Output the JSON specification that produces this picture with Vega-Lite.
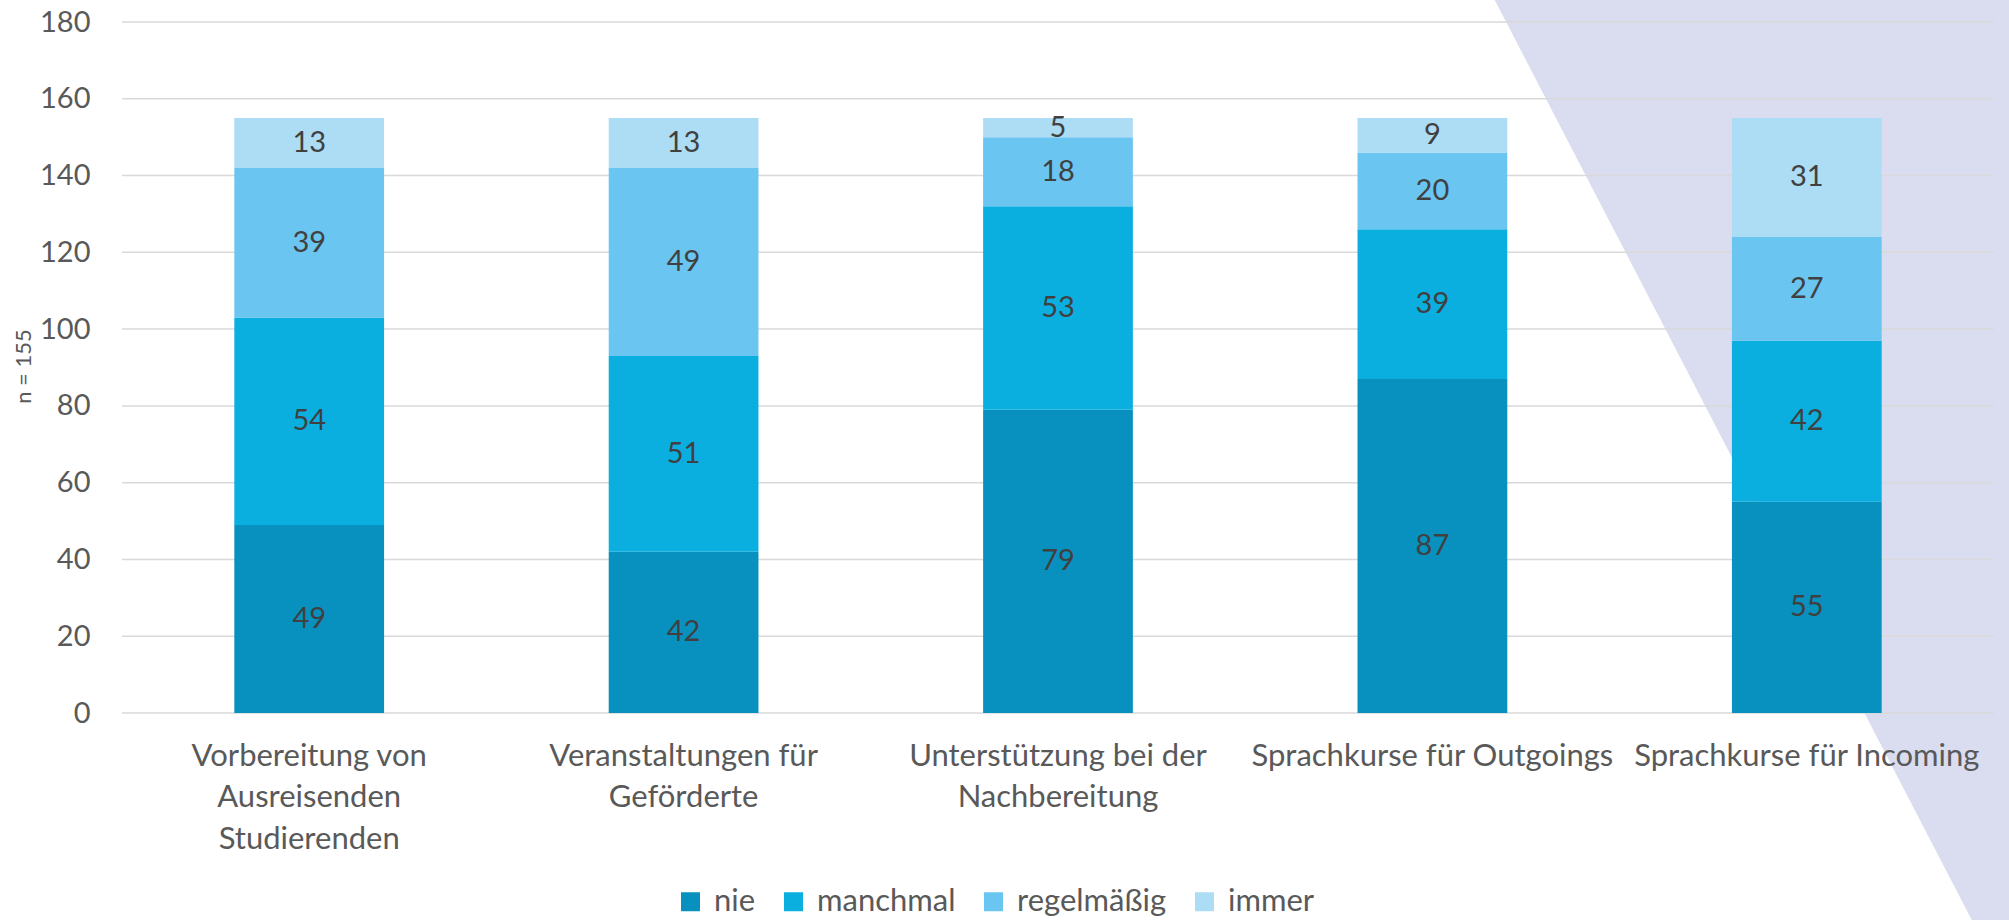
{
  "$schema": "https://vega.github.io/schema/vega-lite/v6.json",
  "width": 1872,
  "height": 691,
  "autosize": {"type": "none"},
  "padding": {"left": 122, "top": 22, "right": 15, "bottom": 207},
  "background": "#ffffff",
  "config": {
    "view": {"stroke": null},
    "font": "Lato",
    "axis": {"labelFont": "Lato", "titleFont": "Lato"},
    "legend": {"labelFont": "Lato"}
  },
  "datasets": {
    "bg": [
      {"yv": 186, "xa": 3.665, "xb": 5.2},
      {"yv": -54, "xa": 4.941, "xb": 5.2}
    ],
    "grid": [
      {"g": 0}, {"g": 20}, {"g": 40}, {"g": 60}, {"g": 80},
      {"g": 100}, {"g": 120}, {"g": 140}, {"g": 160}, {"g": 180}
    ],
    "main": [
      {"cat": "Vorbereitung von Ausreisenden Studierenden", "freq": "nie", "k": 1, "value": 49},
      {"cat": "Vorbereitung von Ausreisenden Studierenden", "freq": "manchmal", "k": 2, "value": 54},
      {"cat": "Vorbereitung von Ausreisenden Studierenden", "freq": "regelmäßig", "k": 3, "value": 39},
      {"cat": "Vorbereitung von Ausreisenden Studierenden", "freq": "immer", "k": 4, "value": 13},
      {"cat": "Veranstaltungen für Geförderte", "freq": "nie", "k": 1, "value": 42},
      {"cat": "Veranstaltungen für Geförderte", "freq": "manchmal", "k": 2, "value": 51},
      {"cat": "Veranstaltungen für Geförderte", "freq": "regelmäßig", "k": 3, "value": 49},
      {"cat": "Veranstaltungen für Geförderte", "freq": "immer", "k": 4, "value": 13},
      {"cat": "Unterstützung bei der Nachbereitung", "freq": "nie", "k": 1, "value": 79},
      {"cat": "Unterstützung bei der Nachbereitung", "freq": "manchmal", "k": 2, "value": 53},
      {"cat": "Unterstützung bei der Nachbereitung", "freq": "regelmäßig", "k": 3, "value": 18},
      {"cat": "Unterstützung bei der Nachbereitung", "freq": "immer", "k": 4, "value": 5},
      {"cat": "Sprachkurse für Outgoings", "freq": "nie", "k": 1, "value": 87},
      {"cat": "Sprachkurse für Outgoings", "freq": "manchmal", "k": 2, "value": 39},
      {"cat": "Sprachkurse für Outgoings", "freq": "regelmäßig", "k": 3, "value": 20},
      {"cat": "Sprachkurse für Outgoings", "freq": "immer", "k": 4, "value": 9},
      {"cat": "Sprachkurse für Incoming", "freq": "nie", "k": 1, "value": 55},
      {"cat": "Sprachkurse für Incoming", "freq": "manchmal", "k": 2, "value": 42},
      {"cat": "Sprachkurse für Incoming", "freq": "regelmäßig", "k": 3, "value": 27},
      {"cat": "Sprachkurse für Incoming", "freq": "immer", "k": 4, "value": 31}
    ]
  },
  "resolve": {"scale": {"x": "independent"}, "axis": {"x": "independent"}},
  "layer": [
    {
      "data": {"name": "bg"},
      "mark": {"type": "area", "orient": "horizontal", "color": "#DADDF0", "clip": false},
      "encoding": {
        "y": {
          "field": "yv", "type": "quantitative",
          "scale": {"domain": [0, 180], "nice": false, "zero": true},
          "axis": {
            "values": [0, 20, 40, 60, 80, 100, 120, 140, 160, 180],
            "grid": false, "domain": false, "ticks": false,
            "labelFontSize": 29, "labelColor": "#595959", "labelPadding": 32,
            "title": "n = 155", "titleFontSize": 22, "titleFontWeight": "normal",
            "titleColor": "#595959", "titleX": -99, "titleY": 344, "titleAngle": -90,
            "titleAlign": "center", "titleBaseline": "middle"
          }
        },
        "x": {"field": "xa", "type": "quantitative", "scale": {"domain": [0, 5], "nice": false, "zero": false}, "axis": null},
        "x2": {"field": "xb"}
      }
    },
    {
      "layer": [
        {
          "data": {"name": "grid"},
          "mark": {"type": "rule", "color": "#D9D9D9", "strokeWidth": 1.5},
          "encoding": {
            "y": {"field": "g", "type": "quantitative"}
          }
        },
        {
          "data": {"name": "main"},
          "transform": [
            {"stack": "value", "groupby": ["cat"], "sort": [{"field": "k", "order": "ascending"}], "as": ["v0", "v1"]},
            {"calculate": "(datum.v0 + datum.v1) / 2", "as": "mid"}
          ],
          "layer": [
            {
              "mark": {"type": "bar"},
              "encoding": {
                "x": {
                  "field": "cat", "type": "nominal",
                  "sort": ["Vorbereitung von Ausreisenden Studierenden", "Veranstaltungen für Geförderte", "Unterstützung bei der Nachbereitung", "Sprachkurse für Outgoings", "Sprachkurse für Incoming"],
                  "scale": {"paddingInner": 0.6, "paddingOuter": 0.3},
                  "axis": {
                    "title": null, "labelAngle": 0, "domain": false, "ticks": false, "zindex": 2,
                    "labelFontSize": 31, "labelColor": "#595959", "labelPadding": 28,
                    "labelBaseline": "top", "labelLineHeight": 41.6, "labelLimit": 500,
                    "labelExpr": "datum.label == 'Vorbereitung von Ausreisenden Studierenden' ? ['Vorbereitung von', 'Ausreisenden', 'Studierenden'] : datum.label == 'Veranstaltungen für Geförderte' ? ['Veranstaltungen für', 'Geförderte'] : datum.label == 'Unterstützung bei der Nachbereitung' ? ['Unterstützung bei der', 'Nachbereitung'] : datum.label"
                  }
                },
                "y": {"field": "v0", "type": "quantitative"},
                "y2": {"field": "v1"},
                "color": {
                  "field": "freq", "type": "nominal",
                  "scale": {"domain": ["nie", "manchmal", "regelmäßig", "immer"], "range": ["#0891BE", "#0AAFE0", "#6AC5F0", "#ADDCF5"]},
                  "legend": {
                    "title": null, "orient": "none", "direction": "horizontal",
                    "legendX": 553, "legendY": 864,
                    "symbolType": "square", "symbolSize": 361, "symbolStrokeWidth": 0,
                    "labelFontSize": 31, "labelColor": "#595959", "labelOffset": 8,
                    "columnPadding": 22
                  }
                }
              }
            },
            {
              "mark": {"type": "text", "fontSize": 29, "color": "#404040", "baseline": "middle", "align": "center"},
              "encoding": {
                "x": {"field": "cat", "type": "nominal", "sort": ["Vorbereitung von Ausreisenden Studierenden", "Veranstaltungen für Geförderte", "Unterstützung bei der Nachbereitung", "Sprachkurse für Outgoings", "Sprachkurse für Incoming"]},
                "y": {"field": "mid", "type": "quantitative"},
                "text": {"field": "value", "type": "quantitative"}
              }
            }
          ]
        }
      ]
    }
  ]
}
